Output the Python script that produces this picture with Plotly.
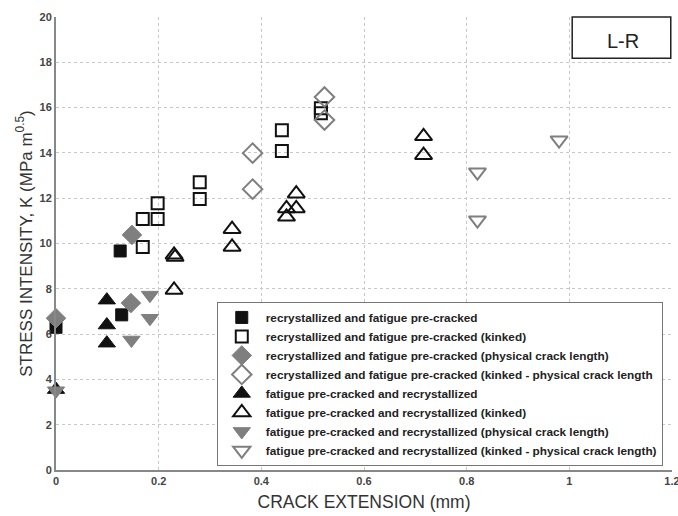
import plotly.graph_objects as go

names = [
    "recrystallized and fatigue pre-cracked",
    "recrystallized and fatigue pre-cracked (kinked)",
    "recrystallized and fatigue pre-cracked (physical crack length)",
    "recrystallized and fatigue pre-cracked (kinked - physical crack length",
    "fatigue pre-cracked and recrystallized",
    "fatigue pre-cracked and recrystallized (kinked)",
    "fatigue pre-cracked and recrystallized (physical crack length)",
    "fatigue pre-cracked and recrystallized (kinked - physical crack length)",
]

fill_sq_x = [0, 0.125, 0.128]
fill_sq_y = [6.3, 9.67, 6.85]
open_sq_x = [0.169, 0.169, 0.198, 0.198, 0.28, 0.28, 0.44, 0.44, 0.516, 0.516]
open_sq_y = [9.85, 11.08, 11.08, 11.78, 12.7, 11.97, 15.0, 14.08, 15.97, 15.75]
fill_dia_x = [0, 0.148, 0.146]
fill_dia_y = [6.7, 10.38, 7.37]
open_dia_x = [0.383, 0.383, 0.523, 0.523]
open_dia_y = [13.99, 12.4, 16.47, 15.45]
fill_up_x = [0, 0.099, 0.099, 0.099]
fill_up_y = [3.55, 7.5, 6.4, 5.6]
open_up_x = [0.23, 0.232, 0.23, 0.343, 0.343, 0.449, 0.449, 0.468, 0.468, 0.716, 0.716]
open_up_y = [9.5, 9.4, 7.95, 10.63, 9.85, 11.55, 11.18, 12.2, 11.55, 14.73, 13.9]
fill_down_x = [0, 0.147, 0.183, 0.183]
fill_down_y = [3.5, 5.74, 7.72, 6.7]
open_down_x = [0.821, 0.821, 0.98]
open_down_y = [13.15, 11.03, 14.56]

x_ticks = [0, 0.2, 0.4, 0.6, 0.8, 1, 1.2]
x_ticklabels = ["0", "0.2", "0.4", "0.6", "0.8", "1", "1.2"]

BLACK = "#111111"
GRAY = "#7f7f7f"

series = [
    (fill_sq_x, fill_sq_y, "square", 12, BLACK, BLACK, 1),
    (open_sq_x, open_sq_y, "square-open", 12, BLACK, BLACK, 2),
    (fill_dia_x, fill_dia_y, "diamond", 15, GRAY, GRAY, 1),
    (open_dia_x, open_dia_y, "diamond-open", 15, GRAY, GRAY, 2),
    (fill_up_x, fill_up_y, "triangle-up", 15, BLACK, BLACK, 1),
    (open_up_x, open_up_y, "triangle-up-open", 15, BLACK, BLACK, 2),
    (fill_down_x, fill_down_y, "triangle-down", 15, GRAY, GRAY, 1),
    (open_down_x, open_down_y, "triangle-down-open", 15, GRAY, GRAY, 2),
]

fig = go.Figure()
for (xs, ys, sym, sz, col, lcol, lw), nm in zip(series, names):
    fig.add_trace(go.Scatter(
        x=xs, y=ys, mode="markers", name=nm, cliponaxis=False,
        marker=dict(symbol=sym, size=sz, color=col, line=dict(color=lcol, width=lw)),
    ))

fig.update_layout(
    width=678, height=516,
    margin=dict(l=56, r=6, t=17, b=46),
    paper_bgcolor="white", plot_bgcolor="white",
    font=dict(family="Liberation Sans, Arial, sans-serif", color="#333333"),
    showlegend=True,
    legend=dict(
        x=0.261, y=0.371, xanchor="left", yanchor="top",
        bgcolor="white", bordercolor="#777777", borderwidth=1,
        font=dict(size=11.8, color="#222222", weight="bold"),
        itemwidth=38, tracegroupgap=0,
    ),
    xaxis=dict(
        range=[0, 1.2], tickvals=x_ticks, ticktext=x_ticklabels,
        ticklabeloverflow="allow", automargin=False,
        showgrid=True, gridcolor="#c8c8c8", griddash="dot", gridwidth=1,
        zeroline=False, showline=True, linecolor="#888888", linewidth=2,
        ticks="", tickfont=dict(size=11, color="#444444", weight="bold"),
        title=dict(text="CRACK EXTENSION (mm)", font=dict(size=17.5, color="#333333"), standoff=10),
    ),
    yaxis=dict(
        range=[0, 20], dtick=2, automargin=False,
        showgrid=True, gridcolor="#c8c8c8", griddash="dot", gridwidth=1,
        zeroline=False, showline=True, linecolor="#888888", linewidth=2,
        ticks="", tickfont=dict(size=11, color="#444444", weight="bold"),
        title=dict(text="STRESS INTENSITY, K (MPa m<sup>0.5</sup>)", font=dict(size=17, color="#333333"), standoff=3),
    ),
    shapes=[dict(type="rect", xref="paper", yref="paper", x0=0.838, x1=0.998, y0=0.909, y1=1.0,
                 line=dict(color="#222222", width=1.5), fillcolor="white")],
    annotations=[dict(text="L-R", xref="paper", yref="paper", x=0.92, y=0.947,
                      xanchor="center", yanchor="middle",
                      showarrow=False, font=dict(size=20, color="#222222"))],
)

fig.write_html("out.html")
